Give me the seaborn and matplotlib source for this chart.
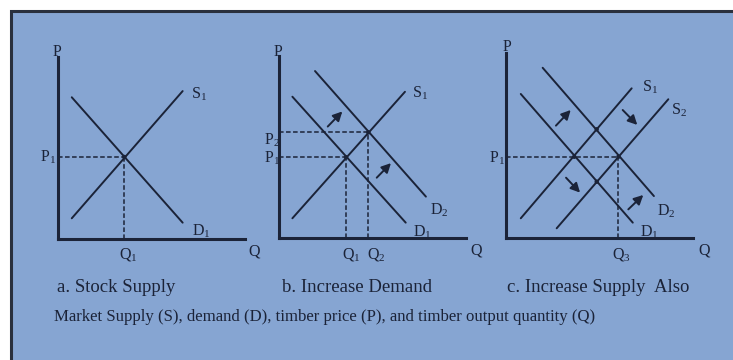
import numpy as np
import pandas as pd
import matplotlib
matplotlib.use("Agg")
import matplotlib.pyplot as plt
import seaborn as sns
from matplotlib.patches import Rectangle

sns.set_theme(style="white")
plt.rcParams["font.family"] = ["Liberation Serif", "DejaVu Serif"]

W, H = 733, 360
BG = "#86a5d2"
INK = "#1b2338"
BORDER = "#2a303d"

# ---------------- data (quantity q, price p in arbitrary units 0-10) ----------------
# panel a: stock supply
a_S1_q = [0.72, 6.65]; a_S1_p = [1.11, 8.10]
a_D1_q = [0.72, 6.65]; a_D1_p = [7.76, 0.87]
a_eq_q = [3.53]; a_eq_p = [4.48]

# panel b: increase demand
b_S1_q = [0.70, 6.72]; b_S1_p = [1.10, 8.05]
b_D1_q = [0.70, 6.76]; b_D1_p = [7.78, 0.86]
b_D2_q = [1.91, 7.84]; b_D2_p = [9.19, 2.29]
b_eq_q = [3.57, 4.76]; b_eq_p = [4.45, 5.82]
b_arrow_from = [(2.59, 6.14), (5.21, 3.33)]
b_arrow_to = [(3.37, 6.97), (5.97, 4.13)]

# panel c: increase supply also
c_S1_q = [0.79, 6.72]; c_S1_p = [1.10, 8.24]
c_S2_q = [2.71, 8.68]; c_S2_p = [0.55, 7.64]
c_D1_q = [0.79, 6.78]; c_D1_p = [7.93, 0.86]
c_D2_q = [1.96, 7.91]; c_D2_p = [9.37, 2.32]
c_eq_q = [3.65, 6.01]; c_eq_p = [4.48, 4.48]
c_dot_q = [4.85, 4.85]; c_dot_p = [5.99, 3.11]
c_arrow_from = [(2.67, 6.19), (6.24, 7.05), (3.21, 3.33), (6.54, 1.59)]
c_arrow_to = [(3.46, 7.05), (7.02, 6.23), (3.96, 2.51), (7.34, 2.38)]

panel_titles = ["a. Stock Supply", "b. Increase Demand", "c. Increase Supply  Also"]
footnote = "Market Supply (S), demand (D), timber price (P), and timber output quantity (Q)"

# ---------------- figure ----------------
fig = plt.figure(figsize=(W / 100, H / 100), dpi=100)
fig.patch.set_facecolor("white")
fig.add_artist(Rectangle((11 / W, -0.05), 1.1, 1.05 - 11 / H, transform=fig.transFigure,
                         facecolor=BG, edgecolor=BORDER, linewidth=2.2, zorder=0))

SX, SY = 18.7, 18.2  # px per unit


def make_ax(x0, y0, xlim, ylim):
    ax = fig.add_axes([x0 / W, (H - y0) / H, xlim * SX / W, ylim * SY / H])
    ax.set_facecolor("none")
    ax.set_xlim(0, xlim)
    ax.set_ylim(0, ylim)
    for s in ["top", "right"]:
        ax.spines[s].set_visible(False)
    for s in ["left", "bottom"]:
        ax.spines[s].set_color(INK)
        ax.spines[s].set_linewidth(2.2)
    ax.set_xticks([]); ax.set_yticks([])
    ax.set_xlabel(""); ax.set_ylabel("")
    return ax


def curves(ax, items):
    rows = []
    for name, qs, ps in items:
        for q, p in zip(qs, ps):
            rows.append({"curve": name, "q": q, "p": p})
    df = pd.DataFrame(rows)
    sns.lineplot(data=df, x="q", y="p", units="curve", estimator=None, sort=False,
                 color=INK, linewidth=1.4, ax=ax)
    ax.set_xlabel(""); ax.set_ylabel("")


def guides(ax, eq_q, eq_p, vert):
    for i, (q, p) in enumerate(zip(eq_q, eq_p)):
        ax.plot([0, q], [p, p], color=INK, lw=1.1, dashes=(3, 1.6))
        if i in vert:
            ax.plot([q, q], [0, p], color=INK, lw=1.1, dashes=(3, 1.6))


def arrows(ax, starts, ends):
    for s, e in zip(starts, ends):
        ax.annotate("", xy=e, xytext=s,
                    arrowprops=dict(arrowstyle="-|>,head_length=0.55,head_width=0.28",
                                    color=INK, lw=1.4, shrinkA=0, shrinkB=0, mutation_scale=10))


def lab(ax, q, p, s, ha="left", va="center", size=11.5):
    ax.text(q, p, s, ha=ha, va=va, fontsize=size, color=INK, clip_on=False, zorder=5)


# panel a
ax = make_ax(58.3, 238.5, 10.0, 10.0)
curves(ax, [("S1", a_S1_q, a_S1_p), ("D1", a_D1_q, a_D1_p)])
guides(ax, a_eq_q, a_eq_p, vert=[0])
sns.scatterplot(x=a_eq_q, y=a_eq_p, color=INK, s=10, edgecolor="none", ax=ax)
lab(ax, -0.07, 10.25, "P", ha="center")
lab(ax, 7.1, 7.94, r"$\mathregular{S_1}$")
lab(ax, -0.12, 4.48, r"$\mathregular{P_1}$", ha="right")
lab(ax, 3.75, -0.9, r"$\mathregular{Q_1}$", ha="center")
lab(ax, 7.15, 0.41, r"$\mathregular{D_1}$")
lab(ax, 10.14, -0.69, "Q")

# panel b
ax = make_ax(279.3, 238.3, 10.0, 10.0)
curves(ax, [("S1", b_S1_q, b_S1_p), ("D1", b_D1_q, b_D1_p), ("D2", b_D2_q, b_D2_p)])
guides(ax, b_eq_q, b_eq_p, vert=[0, 1])
sns.scatterplot(x=b_eq_q, y=b_eq_p, color=INK, s=10, edgecolor="none", ax=ax)
arrows(ax, b_arrow_from, b_arrow_to)
lab(ax, -0.07, 10.25, "P", ha="center")
lab(ax, 7.09, 7.98, r"$\mathregular{S_1}$")
lab(ax, 0.05, 5.40, r"$\mathregular{P_2}$", ha="right")
lab(ax, 0.05, 4.41, r"$\mathregular{P_1}$", ha="right")
lab(ax, 3.84, -0.9, r"$\mathregular{Q_1}$", ha="center")
lab(ax, 5.17, -0.9, r"$\mathregular{Q_2}$", ha="center")
lab(ax, 8.06, 1.56, r"$\mathregular{D_2}$")
lab(ax, 7.15, 0.35, r"$\mathregular{D_1}$")
lab(ax, 10.2, -0.69, "Q")

# panel c
ax = make_ax(506.0, 238.3, 10.0, 10.2)
curves(ax, [("S1", c_S1_q, c_S1_p), ("S2", c_S2_q, c_S2_p),
            ("D1", c_D1_q, c_D1_p), ("D2", c_D2_q, c_D2_p)])
guides(ax, c_eq_q[1:], c_eq_p[1:], vert=[0])
sns.scatterplot(x=c_eq_q + c_dot_q, y=c_eq_p + c_dot_p, color=INK, s=10, edgecolor="none", ax=ax)
arrows(ax, c_arrow_from, c_arrow_to)
lab(ax, 0.05, 10.5, "P", ha="center")
lab(ax, 7.27, 8.31, r"$\mathregular{S_1}$")
lab(ax, 8.82, 7.05, r"$\mathregular{S_2}$")
lab(ax, -0.05, 4.41, r"$\mathregular{P_1}$", ha="right")
lab(ax, 8.07, 1.46, r"$\mathregular{D_2}$")
lab(ax, 7.17, 0.35, r"$\mathregular{D_1}$")
lab(ax, 6.15, -0.9, r"$\mathregular{Q_3}$", ha="center")
lab(ax, 10.27, -0.69, "Q")

# captions
for x, t in zip([57, 282, 507], panel_titles):
    fig.text(x / W, 1 - 288 / H, t, ha="left", va="center", fontsize=13.5, color=INK)
fig.text(54 / W, 1 - 317 / H, footnote, ha="left", va="center", fontsize=12.1, color=INK)

fig.savefig("out.png", dpi=100, facecolor=fig.get_facecolor())
